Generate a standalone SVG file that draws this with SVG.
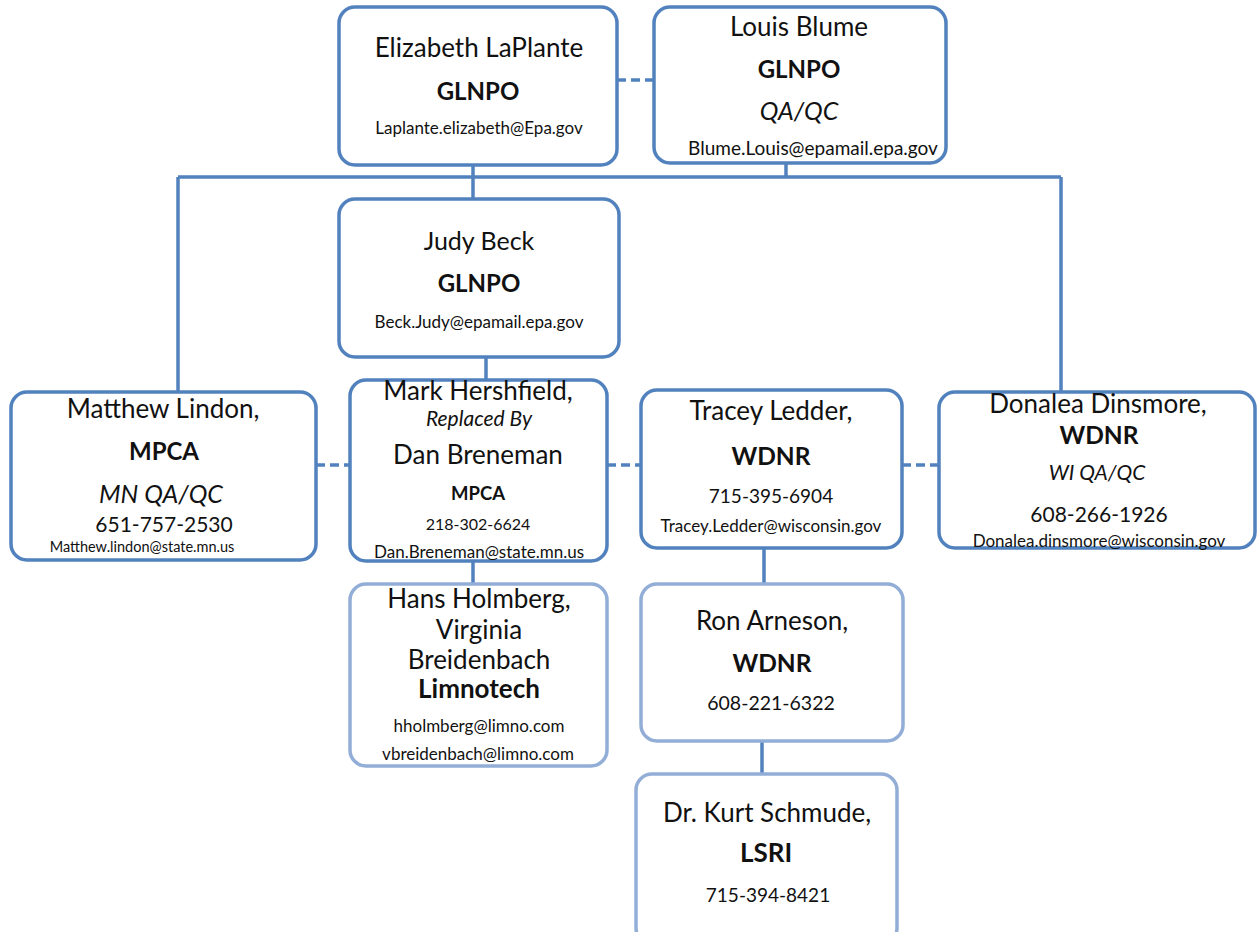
<svg xmlns="http://www.w3.org/2000/svg" width="1257" height="932" viewBox="0 0 1257 932">
<style>
.box{fill:#ffffff;stroke:#5282be;stroke-width:3.5}
.lt{stroke:#93aed6}
.ln{stroke:#5282be;stroke-width:3.5;fill:none}
.ds{stroke-dasharray:9,5}
text{font-family:Lato,"Open Sans",sans-serif;fill:#111;text-anchor:middle}
.b{font-weight:bold}
.i{font-style:italic}
</style>
<rect width="1257" height="932" fill="#ffffff"/>
<g id="connectors">
<path class="ln" d="M178,177 H1061 M473,165 V199 M786,163 V177 M178,177 V392 M1061,177 V392 M486,357 V380 M473,561 V584 M764,548 V584 M762,741 V774"/>
<path class="ln ds" d="M617,80 H654 M316,465 H350 M607,465 H641 M902,465 H939"/>
</g>
<g id="elizabeth">
<rect class="box" x="339" y="7" width="278" height="158" rx="16"/>
<text x="479" y="57" font-size="26">Elizabeth LaPlante</text>
<text x="478" y="100" font-size="24" class="b">GLNPO</text>
<text x="479" y="134" font-size="17">Laplante.elizabeth@Epa.gov</text>
</g>
<g id="louis">
<rect class="box" x="654" y="7" width="292" height="156" rx="16"/>
<text x="799" y="36" font-size="26">Louis Blume</text>
<text x="799" y="78" font-size="24" class="b">GLNPO</text>
<text x="799" y="120" font-size="25" class="i">QA/QC</text>
<text x="813" y="155" font-size="19">Blume.Louis@epamail.epa.gov</text>
</g>
<g id="judy">
<rect class="box" x="339" y="199" width="280" height="158" rx="16"/>
<text x="479" y="250" font-size="25">Judy Beck</text>
<text x="479" y="292" font-size="24" class="b">GLNPO</text>
<text x="479" y="328" font-size="17">Beck.Judy@epamail.epa.gov</text>
</g>
<g id="matthew">
<rect class="box" x="11" y="392" width="305" height="168" rx="16"/>
<text x="163" y="418" font-size="26">Matthew Lindon,</text>
<text x="164" y="460" font-size="24" class="b">MPCA</text>
<text x="161" y="503" font-size="25" class="i">MN QA/QC</text>
<text x="164" y="532" font-size="21">651-757-2530</text>
<text x="142" y="552" font-size="14.5">Matthew.lindon@state.mn.us</text>
</g>
<g id="mark">
<rect class="box" x="350" y="380" width="257" height="181" rx="16"/>
<text x="478" y="400" font-size="26">Mark Hershfield,</text>
<text x="479" y="426" font-size="21" class="i">Replaced By</text>
<text x="478" y="464" font-size="26">Dan Breneman</text>
<text x="478" y="500" font-size="18.5" class="b">MPCA</text>
<text x="478" y="530" font-size="16">218-302-6624</text>
<text x="479" y="558" font-size="17">Dan.Breneman@state.mn.us</text>
</g>
<g id="tracey">
<rect class="box" x="641" y="390" width="261" height="158" rx="16"/>
<text x="771" y="420" font-size="26">Tracey Ledder,</text>
<text x="771" y="465" font-size="24.5" class="b">WDNR</text>
<text x="771" y="503" font-size="19">715-395-6904</text>
<text x="771" y="532" font-size="17">Tracey.Ledder@wisconsin.gov</text>
</g>
<g id="donalea">
<rect class="box" x="939" y="392" width="316" height="156" rx="16"/>
<text x="1098" y="413" font-size="26">Donalea Dinsmore,</text>
<text x="1099" y="444" font-size="24.5" class="b">WDNR</text>
<text x="1097" y="480" font-size="21" class="i">WI QA/QC</text>
<text x="1099" y="522" font-size="21">608-266-1926</text>
<text x="1099" y="547" font-size="17">Donalea.dinsmore@wisconsin.gov</text>
</g>
<g id="hans">
<rect class="box lt" x="350" y="584" width="257" height="182" rx="16"/>
<text x="479" y="608" font-size="26">Hans Holmberg,</text>
<text x="479" y="639" font-size="26">Virginia</text>
<text x="479" y="669" font-size="26">Breidenbach</text>
<text x="479" y="698" font-size="26" class="b">Limnotech</text>
<text x="479" y="732" font-size="17">hholmberg@limno.com</text>
<text x="478" y="760" font-size="17">vbreidenbach@limno.com</text>
</g>
<g id="ron">
<rect class="box lt" x="641" y="584" width="262" height="157" rx="16"/>
<text x="772" y="630" font-size="26">Ron Arneson,</text>
<text x="772" y="672" font-size="24.5" class="b">WDNR</text>
<text x="771" y="710" font-size="19.5">608-221-6322</text>
</g>
<g id="kurt">
<rect class="box lt" x="636" y="774" width="261" height="170" rx="16"/>
<text x="767" y="822" font-size="26">Dr. Kurt Schmude,</text>
<text x="766" y="862" font-size="26" class="b">LSRI</text>
<text x="768" y="902" font-size="19">715-394-8421</text>
</g>
</svg>
